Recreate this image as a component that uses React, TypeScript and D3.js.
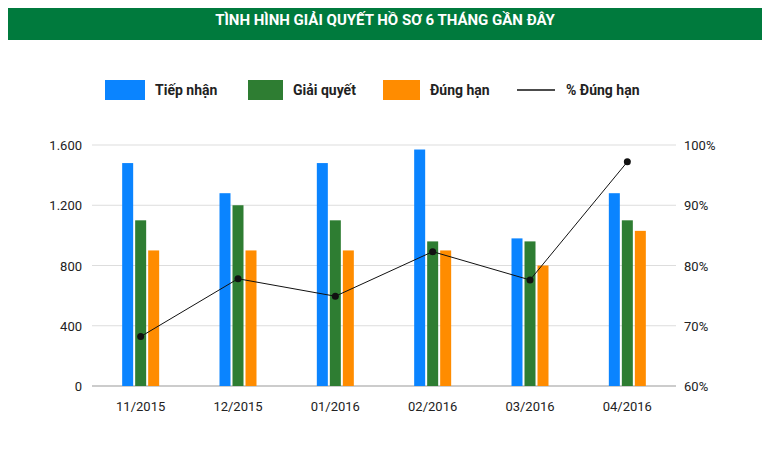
import React from 'react';
import * as d3 from 'd3';

const months = ['11/2015', '12/2015', '01/2016', '02/2016', '03/2016', '04/2016'];
const received = [1480, 1280, 1480, 1570, 980, 1280];
const resolved = [1100, 1200, 1100, 960, 960, 1100];
const onTime = [900, 900, 900, 900, 800, 1030];
const onTimePct = [68.2, 77.8, 74.9, 82.3, 77.6, 97.2];
const leftTicks = [0, 400, 800, 1200, 1600];
const rightTicks = [60, 70, 80, 90, 100];

const W = 770, H = 451;
const colors = ['#0a84ff', '#2e7d32', '#ff8c00'];
const font = 'Roboto, "Open Sans", sans-serif';

const App: React.FC = () => {
  const x = d3.scaleBand<string>().domain(months).range([92, 676]);
  const yL = d3.scaleLinear().domain([0, 1600]).range([386, 145]);
  const yR = d3.scaleLinear().domain([60, 100]).range([386, 145]);
  const bw = 11, gap = 2;
  const series = [received, resolved, onTime];
  const cx = (m: string) => (x(m) ?? 0) + x.bandwidth() / 2;
  const line = d3.line<number>().x((_, i) => cx(months[i])).y(d => yR(d));
  const fmt = (v: number) => d3.format(',')(v).replace(/,/g, '.');

  const legend = [
    { label: 'Tiếp nhận', x: 105, w: 40, c: colors[0] },
    { label: 'Giải quyết', x: 248, w: 35, c: colors[1] },
    { label: 'Đúng hạn', x: 383, w: 37, c: colors[2] },
  ];

  return (
    <svg width={W} height={H} style={{ display: 'block', margin: -8 }} fontFamily={font}>
      <rect width={W} height={H} fill="#fff" />
      <rect width={W} height={40} fill="#007a3d" />
      <text x={W / 2} y={25} textAnchor="middle" fill="#fff" fontWeight="bold" fontSize={15}>
        TÌNH HÌNH GIẢI QUYẾT HỒ SƠ 6 THÁNG GẦN ĐÂY
      </text>
      {legend.map(l => (
        <g key={l.label}>
          <rect x={l.x} y={80} width={l.w} height={20} fill={l.c} />
          <text x={l.x + l.w + 10} y={95} fontSize={14} fontWeight="bold" fill="#222">{l.label}</text>
        </g>
      ))}
      <line x1={517} x2={555} y1={90} y2={90} stroke="#111" strokeWidth={1.5} />
      <text x={566} y={95} fontSize={14} fontWeight="bold" fill="#222">% Đúng hạn</text>

      {leftTicks.map(t => (
        <g key={t}>
          <line x1={92} x2={676} y1={yL(t)} y2={yL(t)} stroke={t === 0 ? '#999' : '#ddd'} />
          <text x={82} y={yL(t) + 5} textAnchor="end" fontSize={13} fill="#222">{fmt(t)}</text>
        </g>
      ))}
      {rightTicks.map(t => (
        <text key={t} x={684} y={yR(t) + 5} fontSize={13} fill="#222">{t}%</text>
      ))}
      {months.map((m, i) => (
        <g key={m}>
          {series.map((s, k) => (
            <rect key={k} x={cx(m) - 1.5 * bw - gap + k * (bw + gap)} y={yL(s[i])}
              width={bw} height={yL(0) - yL(s[i])} fill={colors[k]} />
          ))}
          <text x={cx(m)} y={411} textAnchor="middle" fontSize={13} fill="#222">{m}</text>
        </g>
      ))}
      <path d={line(onTimePct) ?? ''} fill="none" stroke="#111" strokeWidth={1} />
      {onTimePct.map((p, i) => (
        <circle key={i} cx={cx(months[i])} cy={yR(p)} r={3.5} fill="#111" />
      ))}
    </svg>
  );
};

export default App;
